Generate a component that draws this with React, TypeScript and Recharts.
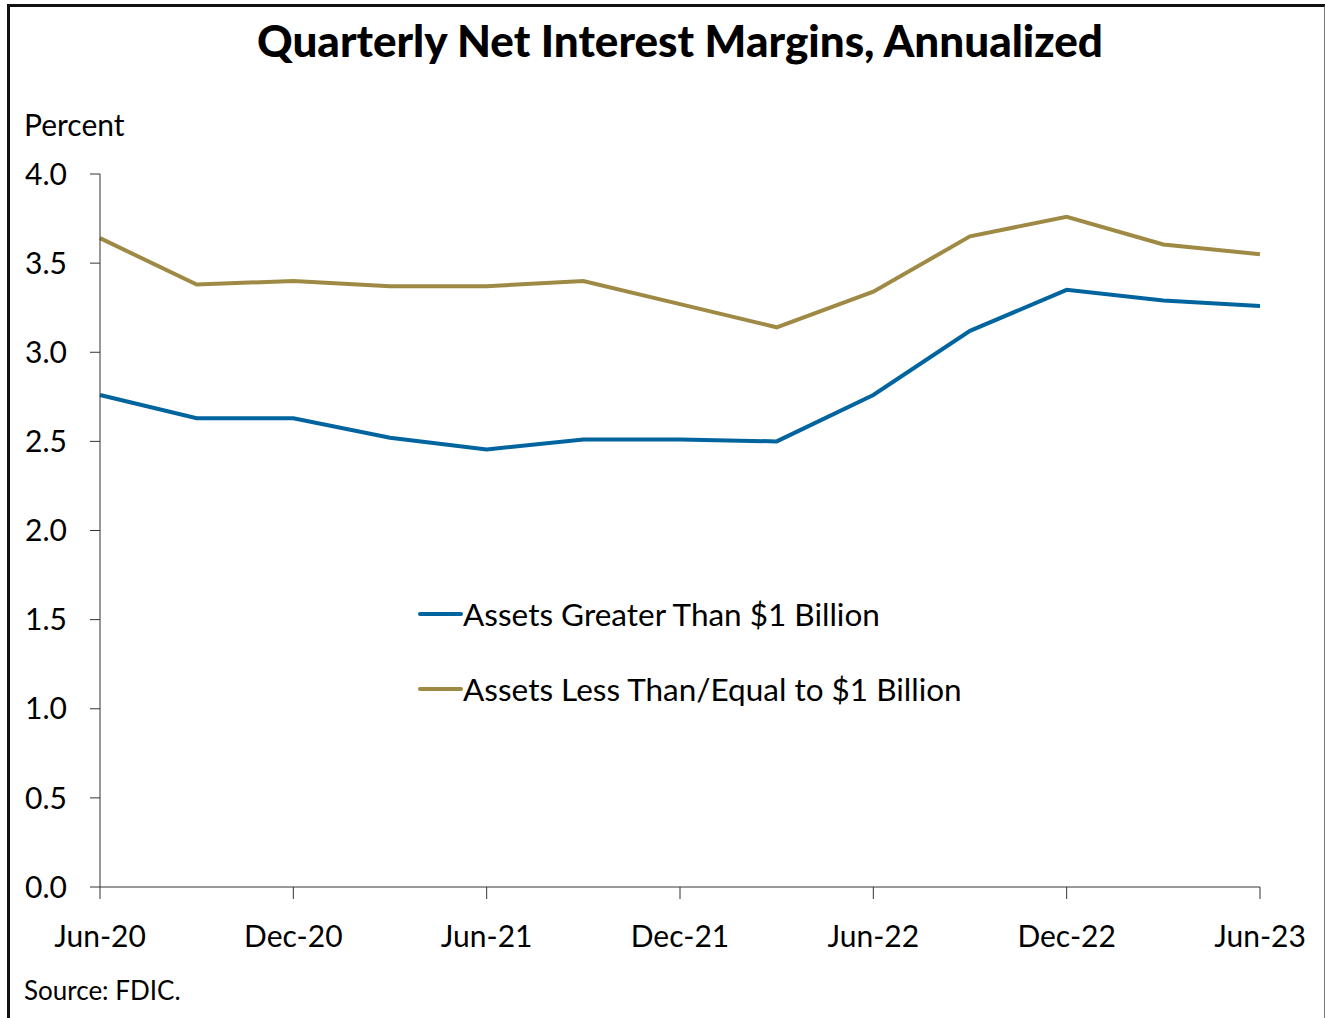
import React from 'react';
import { LineChart, Line, XAxis, YAxis } from 'recharts';

const quarters = [
  'Jun-20', 'Sep-20', 'Dec-20', 'Mar-21', 'Jun-21', 'Sep-21', 'Dec-21',
  'Mar-22', 'Jun-22', 'Sep-22', 'Dec-22', 'Mar-23', 'Jun-23',
];
const largeBanks = [2.76, 2.63, 2.63, 2.52, 2.455, 2.51, 2.51, 2.5, 2.76, 3.12, 3.35, 3.29, 3.26];
const smallBanks = [3.64, 3.38, 3.4, 3.37, 3.37, 3.4, 3.27, 3.14, 3.34, 3.65, 3.76, 3.605, 3.55];
const yTicks = [0, 0.5, 1, 1.5, 2, 2.5, 3, 3.5, 4];

const BLUE = '#00649f';
const GOLD = '#9e8a45';
const FONT = 'Lato, "Open Sans", sans-serif';

const data = quarters.map((q, i) => ({ q, large: largeBanks[i], small: smallBanks[i] }));

const legendItems = [
  { label: 'Assets Greater Than $1 Billion', color: BLUE },
  { label: 'Assets Less Than/Equal to $1 Billion', color: GOLD },
];

export default function App() {
  return (
    <div style={{ position: 'absolute', left: 0, top: 0, width: 1325, height: 1018, overflow: 'hidden', background: '#fff', fontFamily: FONT }}>
      {/* frame */}
      <div style={{ position: 'absolute', left: 7, top: 4, width: 1314, height: 1030, borderTop: '3px solid #111', borderLeft: '3px solid #111', borderRight: '2px solid #777' }} />
      <div style={{ position: 'absolute', left: 0, width: 1360, top: 14, textAlign: 'center', fontSize: 44, fontWeight: 900, color: '#000' }}>
        Quarterly Net Interest Margins, Annualized
      </div>
      <div style={{ position: 'absolute', left: 24, top: 106, fontSize: 30, color: '#000' }}>Percent</div>
      <div style={{ position: 'absolute', left: 24, top: 974, fontSize: 26, color: '#000' }}>Source: FDIC.</div>

      <div style={{ position: 'absolute', left: 0, top: 0 }}>
        <LineChart width={1325} height={1018} data={data} margin={{ top: 174, right: 65, bottom: 0, left: 0 }}>
          <XAxis
            dataKey="q"
            scale="point"
            padding={{ left: 0, right: 0 }}
            interval={1}
            height={131}
            tickSize={12}
            tickMargin={27}
            stroke="#333"
            tick={{ fill: '#000', fontSize: 30, fontFamily: FONT }}
          />
          <YAxis
            domain={[0, 4]}
            ticks={yTicks}
            width={100}
            tickSize={10}
            tickMargin={23}
            stroke="#333"
            tickFormatter={(v: number) => v.toFixed(1)}
            tick={{ fill: '#000', fontSize: 30, fontFamily: FONT }}
          />
          <Line dataKey="small" stroke={GOLD} strokeWidth={4} dot={false} isAnimationActive={false} />
          <Line dataKey="large" stroke={BLUE} strokeWidth={4} dot={false} isAnimationActive={false} />
        </LineChart>
      </div>

      {legendItems.map((item, i) => (
        <div key={item.label} style={{ position: 'absolute', left: 418, top: 595 + i * 75, display: 'flex', alignItems: 'center', fontSize: 31.5, color: '#000' }}>
          <span style={{ display: 'inline-block', width: 45, height: 4.5, background: item.color, borderRadius: 2 }} />
          <span>{item.label}</span>
        </div>
      ))}
    </div>
  );
}
